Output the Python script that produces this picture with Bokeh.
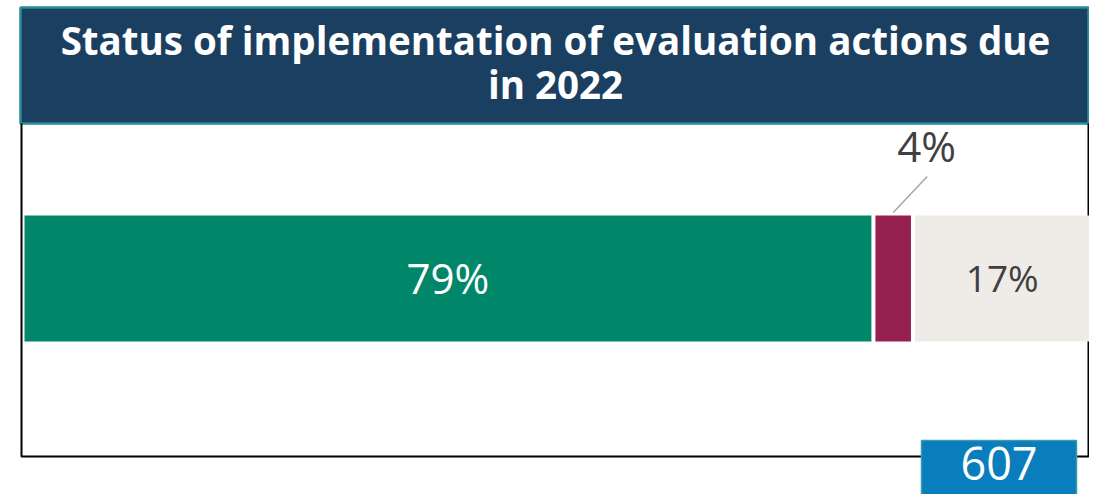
from bokeh.plotting import figure
from bokeh.models import Range1d, ColumnDataSource
from bokeh.core.properties import value
from bokeh.embed import file_html
from bokeh.resources import INLINE

# ---- data ----
categories = ["Implemented", "Not implemented", "Ongoing"]
shares = [79.6, 3.7, 16.7]          # percent of actions
share_labels = ["79%", "4%", "17%"]
bar_colors = ["#00876A", "#97214E", "#EFEBE7"]
label_colors = ["#FFFFFF", "#404040", "#404040"]
total_actions = 607
title_lines = ["Status of implementation of evaluation actions due", "in 2022"]

# ---- layout constants ----
W, H = 1089, 494
PX_PER_PCT = 10.69
X0_PX = 24
GAP = 4 / PX_PER_PCT
BAR_Y, BAR_H = 278, 126
FONT = "Open Sans"

starts, ends = [], []
acc = 0.0
for v in shares:
    starts.append(acc)
    acc += v
    ends.append(acc - GAP)
mids = [(a + b) / 2 for a, b in zip(starts, ends)]

p = figure(width=W, height=H,
           x_range=Range1d(-X0_PX / PX_PER_PCT, (W - X0_PX) / PX_PER_PCT),
           y_range=Range1d(H, 0),
           x_axis_type=None, y_axis_type=None,
           output_backend="svg", toolbar_location=None,
           min_border=0, outline_line_color=None)
p.grid.visible = False
p.background_fill_color = "white"
p.border_fill_color = "white"
p.extra_x_ranges = {"px": Range1d(0, W)}

# title banner
p.quad(left=[20], right=[1088], top=[7], bottom=[123], x_range_name="px",
       fill_color="#1B3F60", line_color="#2A8C96", line_width=2.5)
p.text(x=[555, 555], y=[39.5, 83.5], text=title_lines, x_range_name="px",
       text_font=value(FONT), text_font_style="bold", text_font_size="38.5px",
       text_color="white", text_align="center", text_baseline="middle")

# frame lines
p.line(x=[21, 21, 921], y=[123, 456, 456], x_range_name="px",
       line_color="black", line_width=2)
p.line(x=[1076, 1088, 1088], y=[456, 456, 123], x_range_name="px",
       line_color="black", line_width=2)

# bars
src = ColumnDataSource(dict(cat=categories, left=starts, right=ends, mid=mids,
                            color=bar_colors, lab=share_labels, lc=label_colors))
p.hbar(y=BAR_Y, height=BAR_H, left="left", right="right", fill_color="color",
       line_color=None, source=src)

# in-bar labels (first and last)
p.text(x=[mids[0]], y=[BAR_Y - 1], text=[share_labels[0]], text_font=value(FONT),
       text_font_size="42px", text_color=label_colors[0],
       text_align="center", text_baseline="middle")
p.text(x=[mids[2]], y=[BAR_Y - 1], text=[share_labels[2]], text_font=value(FONT),
       text_font_size="37px", text_color=label_colors[2],
       text_align="center", text_baseline="middle")

# small segment label with leader line
p.segment(x0=[mids[1]], y0=[BAR_Y - BAR_H / 2 - 3], x1=[mids[1] + 34 / PX_PER_PCT],
          y1=[176], line_color="#A6A6A6", line_width=1.5)
p.text(x=[mids[1] + 33.5 / PX_PER_PCT], y=[145], text=[share_labels[1]],
       text_font=value(FONT), text_font_size="42px", text_color="#404040",
       text_align="center", text_baseline="middle")

# total count box
p.quad(left=[921], right=[1076], top=[440], bottom=[510], x_range_name="px",
       fill_color="#0A7DBD", line_color="#3B9AAE", line_width=1.5)
p.text(x=[998.5], y=[463], text=[str(total_actions)], x_range_name="px",
       text_font=value(FONT), text_font_size="45px", text_color="white",
       text_align="center", text_baseline="middle")

open("out.html", "w").write(file_html(p, INLINE))
